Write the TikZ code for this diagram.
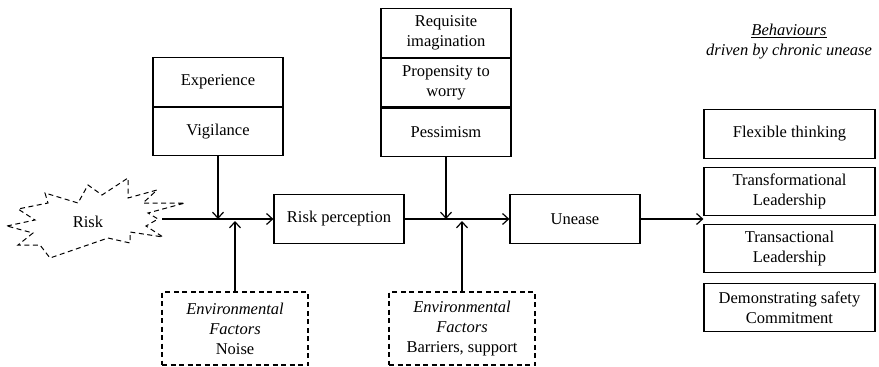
\documentclass[tikz,border=0pt]{standalone}
\usepackage{fontspec}
\setmainfont{Liberation Serif}
\usetikzlibrary{positioning,arrows.meta}

\begin{document}
\begin{tikzpicture}[x=1pt,y=-1pt,
    font=\fontsize{16.5}{20}\selectfont,
    box/.style={draw,line width=1.2pt,minimum width=130pt,minimum height=48.5pt,align=center,inner sep=2pt},
    envbox/.style={draw,dash pattern=on 5pt off 3.5pt,line width=1.2pt,minimum width=146pt,minimum height=73pt,align=center},
    behbox/.style={draw,line width=1.2pt,minimum width=171pt,minimum height=48.5pt,align=center,inner sep=2pt},
    flow/.style={-{Straight Barb[length=6pt,width=11pt]},line width=1.2pt}]
    \useasboundingbox (0,0) rectangle (879,367);

    % Risk
    \draw[dash pattern=on 5pt off 3.5pt,line width=1pt] (7,226) -- (35,220) -- (18,209) -- (48,203) -- (45,193)
        -- (78,203) -- (88,185) -- (102,195) -- (128,178) -- (128,198) -- (157,190)
        -- (143,203) -- (185,203) -- (148,213) -- (158,219) -- (146,226) -- (163,237)
        -- (130,232) -- (130,243) -- (108,238) -- (50,258) -- (40,245) -- (18,245)
        -- (33,233) -- cycle;
    \node (risk) at (88,222) {Risk};
    \coordinate (riskout) at (162,219);

    % Main chain
    \node[box] (rp) at (339,219) {Risk perception};
    \node[box] (unease) at (575,219) {Unease};

    % Moderators
    \node[box,anchor=north] (exp) at (218,57) {Experience};
    \node[box,anchor=north] (vig) at (exp.south) {Vigilance};
    \node[box,anchor=north] (req) at (446,8) {Requisite\\imagination};
    \node[box,anchor=north] (prop) at (req.south) {Propensity to\\worry};
    \node[box,anchor=north] (pess) at (prop.south) {Pessimism};

    \node[envbox] (env1) at (235,328.5) {\textit{Environmental}\\\textit{Factors}\\Noise};
    \node[envbox] (env2) at (462,328.5) {\textit{Environmental}\\\textit{Factors}\\Barriers, support};

    % Behaviours
    \node[align=center] (beh) at (789,42) {\textit{\underline{Behaviours}}\\\textit{driven by chronic unease}};
    \node[behbox] (flex) at (789.5,134) {Flexible thinking};
    \node[behbox] (transf) at (789.5,191.5) {Transformational\\Leadership};
    \node[behbox] (transa) at (789.5,248.5) {Transactional\\Leadership};
    \node[behbox] (demo) at (789.5,307.5) {Demonstrating safety\\Commitment};

    \path[flow]
        (riskout) edge (rp.west)
        (vig.south) edge (vig.south |- rp.west)
        (env1.north) edge ([yshift=-2pt]env1.north |- rp.west)
        (rp.east) edge (unease.west)
        (pess.south) edge (pess.south |- unease.west)
        (env2.north) edge ([yshift=-2pt]env2.north |- unease.west)
        (unease.east) edge (transf.west |- unease.east);
\end{tikzpicture}
\end{document}
